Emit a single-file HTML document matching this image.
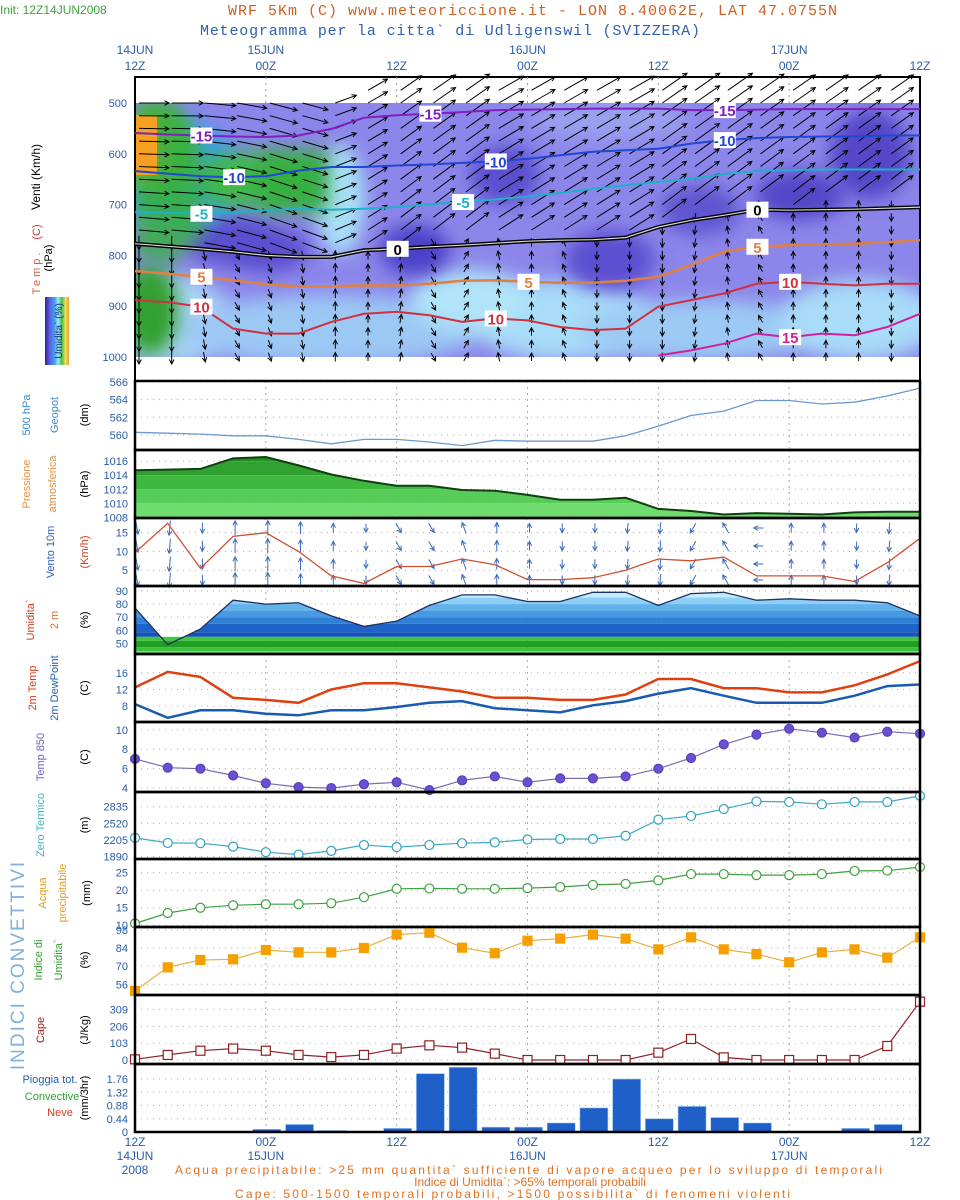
<!DOCTYPE html>
<html><head><meta charset="utf-8"><title>Meteogramma Udligenswil</title>
<style>
html,body{margin:0;padding:0;background:#fff;}
svg{display:block;font-family:"Liberation Sans Narrow","Liberation Sans",sans-serif;}
.tk{font-size:11px;fill:#2a5ca8;text-anchor:end;}
.ax{font-size:12px;fill:#2a5ca8;text-anchor:middle;}
.lb{font-size:11px;text-anchor:middle;}
</style></head>
<body>
<svg id="chart" width="960" height="1200" viewBox="0 0 960 1200" xmlns="http://www.w3.org/2000/svg">
<defs>
  <linearGradient id="cbar" x1="0" x2="1" y1="0" y2="0">
    <stop offset="0" stop-color="#3020a0"/><stop offset="0.2" stop-color="#6060e0"/><stop offset="0.4" stop-color="#40a0f0"/>
    <stop offset="0.55" stop-color="#a0e8f8"/><stop offset="0.7" stop-color="#40c040"/><stop offset="0.85" stop-color="#f0e060"/><stop offset="1" stop-color="#f0a030"/>
  </linearGradient>
  <filter id="blur" x="-50%" y="-50%" width="200%" height="200%"><feGaussianBlur stdDeviation="9"/></filter>
  <clipPath id="xsClip"><rect x="135" y="103" width="785" height="254"/></clipPath>
</defs>
<rect x="0" y="0" width="960" height="1200" fill="#fff"/>

<text x="0" y="14" font-size="12" fill="#40a040">Init: 12Z14JUN2008</text>
<text x="228" y="15" font-size="15" fill="#d06020" font-family="Liberation Mono, monospace" textLength="609">WRF 5Km (C) www.meteoriccione.it - LON 8.40062E, LAT 47.0755N</text>
<text x="200" y="35" font-size="15" fill="#3060b0" font-family="Liberation Mono, monospace" textLength="500">Meteogramma per la citta` di Udligenswil (SVIZZERA)</text>

<g id="topAxis"></g>
<g id="xsec" clip-path="url(#xsClip)"></g>
<g id="xsecOver"></g>
<g id="panels"></g>

<g font-size="11">
  <text transform="translate(40,177) rotate(-90)" class="lb" fill="#000" style="font-size:12px">Venti (Km/h)</text>
  <text transform="translate(40,232) rotate(-90)" class="lb" fill="#d04040">(C)</text>
  <text transform="translate(40,272) rotate(-90)" class="lb" fill="#d06040" letter-spacing="3">Temp.</text>
  <text transform="translate(52,258) rotate(-90)" class="lb" fill="#000">(hPa)</text>
  <rect x="45" y="297" width="24" height="68" fill="url(#cbar)"/>
  <text transform="translate(62,331) rotate(-90)" class="lb" fill="#203080" style="font-size:10px">Umidita` (%)</text>

  <text transform="translate(30,415) rotate(-90)" class="lb" fill="#3a8ad0">500 hPa</text>
  <text transform="translate(58,415) rotate(-90)" class="lb" fill="#3a8ad0">Geopot</text>
  <text transform="translate(88,415) rotate(-90)" class="lb" fill="#000">(dm)</text>

  <text transform="translate(30,484) rotate(-90)" class="lb" fill="#e09040">Pressione</text>
  <text transform="translate(56,484) rotate(-90)" class="lb" fill="#e09040">atmosferica</text>
  <text transform="translate(88,484) rotate(-90)" class="lb" fill="#000">(hPa)</text>

  <text transform="translate(54,552) rotate(-90)" class="lb" fill="#3060c0">Vento  10m</text>
  <text transform="translate(88,552) rotate(-90)" class="lb" fill="#d04020">(Km/h)</text>

  <text transform="translate(34,620) rotate(-90)" class="lb" fill="#d04020">Umidita`</text>
  <text transform="translate(58,620) rotate(-90)" class="lb" fill="#e07030">2 m</text>
  <text transform="translate(88,620) rotate(-90)" class="lb" fill="#000">(%)</text>

  <text transform="translate(36,688) rotate(-90)" class="lb" fill="#d04020">2m Temp</text>
  <text transform="translate(58,688) rotate(-90)" class="lb" fill="#2060b0">2m DewPoint</text>
  <text transform="translate(88,688) rotate(-90)" class="lb" fill="#000">(C)</text>

  <text transform="translate(44,757) rotate(-90)" class="lb" fill="#7060c0">Temp 850</text>
  <text transform="translate(88,757) rotate(-90)" class="lb" fill="#000">(C)</text>

  <text transform="translate(44,825) rotate(-90)" class="lb" fill="#40b0c0">Zero Termico</text>
  <text transform="translate(88,825) rotate(-90)" class="lb" fill="#000">(m)</text>

  <text transform="translate(46,893) rotate(-90)" class="lb" fill="#e0a020">Acqua</text>
  <text transform="translate(66,893) rotate(-90)" class="lb" fill="#e0a020">precipitabile</text>
  <text transform="translate(90,893) rotate(-90)" class="lb" fill="#000">(mm)</text>

  <text transform="translate(42,960) rotate(-90)" class="lb" fill="#30a030">Indice di</text>
  <text transform="translate(62,960) rotate(-90)" class="lb" fill="#30a030">Umidita`</text>
  <text transform="translate(88,960) rotate(-90)" class="lb" fill="#000">(%)</text>

  <text transform="translate(44,1030) rotate(-90)" class="lb" fill="#a02020">Cape</text>
  <text transform="translate(88,1030) rotate(-90)" class="lb" fill="#000">(J/Kg)</text>

  <text x="50" y="1083" class="lb" fill="#2060b0">Pioggia tot.</text>
  <text x="52" y="1100" class="lb" fill="#30a030">Convective</text>
  <text x="60" y="1116" class="lb" fill="#d04020">Neve</text>
  <text transform="translate(88,1098) rotate(-90)" class="lb" fill="#000">(mm/3hr)</text>

  <text transform="translate(24,965) rotate(-90)" class="lb" fill="#80b0e0" style="font-size:19px;font-family:'Liberation Sans',sans-serif" letter-spacing="2">INDICI  CONVETTIVI</text>
</g>

<g id="bottomAxis"></g>
<g font-size="12" fill="#e07020">
  <text x="175" y="1174" textLength="707">Acqua precipitabile: &gt;25 mm quantita` sufficiente di vapore acqueo per lo sviluppo di temporali</text>
  <text x="530" y="1186" text-anchor="middle">Indice di Umidita`: &gt;65% temporali probabili</text>
  <text x="235" y="1198" textLength="555">Cape: 500-1500 temporali probabili, &gt;1500 possibilita` di fenomeni violenti</text>
</g>
</svg>

<script>
const times = ["12Z","15Z","18Z","21Z","00Z","03Z","06Z","09Z","12Z","15Z","18Z","21Z","00Z","03Z","06Z","09Z","12Z","15Z","18Z","21Z","00Z","03Z","06Z","09Z","12Z"];
const geopot = [560.3,560.2,560.1,559.9,559.9,559.5,559.0,559.5,559.5,559.2,558.8,559.4,559.3,559.3,559.3,559.9,561.0,562.2,562.7,563.9,563.9,563.5,563.7,564.4,565.3];
const pressure = [1014.7,1014.8,1014.9,1016.4,1016.6,1015.4,1014.1,1013.2,1012.5,1012.5,1011.9,1011.8,1011.2,1010.5,1010.5,1010.8,1009.2,1008.9,1008.4,1008.6,1008.5,1008.4,1008.7,1008.8,1008.8];
const wind10 = [9.7,17.5,5.5,14,15,10,3.5,1.5,6,6,8,6.5,2.5,2.5,3,5,8,7.5,8.5,3.5,3.5,3.5,2,7,13.5];
const wind10Dir = [80,95,90,-90,-90,-90,-90,90,60,60,-110,-90,-90,90,90,95,95,120,-120,180,-90,-90,90,95,100];
const humidity = [77,49,61,83,80,81,71,63,67,79,87,87,82,82,89,89,79,88,89,83,84,83,83,81,71];
const temp2m = [12.5,16.2,15,10,9.5,8.8,12,13.5,13.5,12.5,11.5,10,10,9.5,9.5,10.8,14.5,14.5,12.3,12.3,11.3,11.3,13,15.6,18.8];
const dew2m = [8.5,5.2,7,7,6.2,5.8,7,7,7.8,8.8,9.2,7.5,7,6.5,8.2,9.2,11,12.3,10.5,8.8,8.8,8.8,10.5,12.8,13.2];
const temp850 = [7.0,6.1,6.0,5.3,4.5,4.1,4.0,4.4,4.6,3.8,4.8,5.2,4.6,5.0,5.0,5.2,6.0,7.1,8.5,9.5,10.1,9.7,9.2,9.8,9.6];
const zeroTerm = [2245,2150,2145,2080,1975,1930,2000,2110,2070,2110,2145,2160,2215,2225,2225,2285,2590,2660,2790,2935,2925,2880,2925,2925,3040];
const acqua = [10.5,13.5,15,15.7,16,16,16.3,18,20.4,20.5,20.4,20.4,20.6,20.9,21.5,21.8,22.8,24.6,24.6,24.3,24.3,24.6,25.5,25.6,26.6];
const indice = [50.8,69.1,74.8,75.3,82.5,80.7,80.7,84.1,94.4,95.9,84.3,80,89.7,91.3,94.4,91.3,83,92.3,83,79.4,73,80.7,83,76.6,92.3];
const cape = [4,31,57,70,57,31,18,31,70,90,76,39,0,0,0,0,45,129,16,0,0,0,0,86,358];
const precip = [0,0,0,0,0.09,0.25,0.05,0,0.12,1.94,2.15,0.16,0.16,0.3,0.8,1.76,0.44,0.85,0.48,0.3,0,0,0.12,0.25,0];

const isoM15 = [559,562,564,566,567,564,551,529,524,521,518,514,513,512,511,511,511,514,514,513,512,512,512,512,512];
const isoM10 = [634,639,644,646,644,633,626,626,623,621,618,615,610,603,596,593,590,580,573,569,567,566,566,564,564];
const isoM5 = [715,716,718,715,711,708,710,708,705,699,695,690,684,677,669,662,655,649,640,634,632,631,631,631,631];
const iso0 = [777,782,787,793,800,803,803,790,787,783,780,776,772,770,769,765,744,731,721,710,711,710,709,707,705];
const iso5 = [831,836,842,849,857,861,861,859,859,856,850,849,852,854,854,850,842,819,793,783,780,778,777,774,770];
const iso10 = [888,892,901,944,954,954,931,915,911,918,931,924,928,941,947,944,901,888,875,856,852,856,859,856,856];
const iso15 = [null,null,null,null,null,null,null,null,null,null,null,null,null,null,null,null,997,987,974,954,961,954,957,941,915];
const windUpDir = [0,0,5,10,15,15,-20,-30,-35,-35,-35,-30,-30,-30,-30,-30,-35,-35,-35,-35,-35,-35,-35,-35,-35];
const windUpSpd = [40,42,42,40,38,35,30,30,34,36,38,38,36,36,36,38,40,40,40,38,36,36,36,36,36];
const windLoDir = [90,90,80,60,70,80,-90,-90,-80,60,-60,-100,-90,-110,90,90,90,100,-100,-120,-90,-90,-90,90,90];
const windLoSpd = [14,14,10,9,9,9,9,8,9,9,9,9,8,8,8,8,9,9,8,8,8,8,8,8,8];
const pLevels = [475,500,525,550,575,600,625,650,675,700,725,750,775,800,825,850,875,900,925,950,975,1000];

const NS = "http://www.w3.org/2000/svg";
const X = i => 135 + i * 785 / 24;
function lin(top, bot, vTop, vBot) { return v => top + (vTop - v) / (vTop - vBot) * (bot - top); }
function el(tag, attrs, parent) {
  const e = document.createElementNS(NS, tag);
  for (const k in attrs) e.setAttribute(k, attrs[k]);
  parent.appendChild(e);
  return e;
}
const P = document.getElementById('panels');
const XS = document.getElementById('xsec');
const XO = document.getElementById('xsecOver');
const pY = p => 103 + (p - 500) * 254 / 500;

let e;
e = el('rect', {x:135,y:103,width:785,height:254,fill:'#8c86ea'}, XS);


const blobs = [
 [170,320,60,45,'#a8d4f6'],[330,330,150,35,'#9cc8f4'],[560,320,90,40,'#a8dcf8'],[700,330,120,30,'#9ccaf4'],[860,320,80,40,'#a8dcf8'],
 [470,300,60,30,'#b0e4f8'],[230,240,45,25,'#5c50d0'],[270,250,40,22,'#5c50d0'],[415,250,35,25,'#4c40c8'],[505,175,35,30,'#5c50d0'],
 [610,260,45,30,'#5c50d0'],[700,210,40,25,'#6054d0'],[870,155,40,45,'#5446c8'],[800,195,45,25,'#5446c8'],[610,120,80,20,'#9aa0ee'],
 [180,175,60,55,'#3aa0e8'],[240,180,45,28,'#40b848'],[160,150,35,45,'#40b848'],[340,200,25,55,'#a8e0f8'],
 [150,310,28,45,'#30a030'],[150,150,18,35,'#f0a030']];
blobs.forEach(b => {
  const c = el('ellipse', {cx:b[0],cy:b[1],rx:b[2],ry:b[3],fill:b[4],filter:'url(#blur)'}, XS);
  
  
});
e = el('polygon', {points:'135,103 170,103 200,150 205,230 170,265 135,255', fill:'#38b040', opacity:0.85, filter:'url(#blur)'}, XS);


e = el('rect', {x:258,y:150,width:70,height:62,fill:'#36b040', filter:'url(#blur)'}, XS);


e = el('rect', {x:135,y:115,width:22,height:60,fill:'#f5a020'}, XS);



e = el('rect', {x:135,y:77,width:785,height:304,fill:'none',stroke:'#000','stroke-width':2}, XO);


[500,600,700,800,900,1000].forEach(p => {
  const t = el('text', {x:127,y:pY(p)+4,class:'tk'}, XO);
  t.textContent = p;
  
  
});
[4,8,12,16,20].forEach(i => {
  const g = el('line', {x1:X(i),x2:X(i),y1:77,y2:103,stroke:'#999','stroke-dasharray':'2,4'}, XO);
  
  
});

function arrow(x, y, ang, len, color, parent, name) {
  const r = ang * Math.PI / 180;
  const x2 = x + Math.cos(r) * len, y2 = y + Math.sin(r) * len;
  const a1 = r + Math.PI * 0.85, a2 = r - Math.PI * 0.85;
  const d = `M${x.toFixed(1)},${y.toFixed(1)}L${x2.toFixed(1)},${y2.toFixed(1)}M${(x2+Math.cos(a1)*5).toFixed(1)},${(y2+Math.sin(a1)*5).toFixed(1)}L${x2.toFixed(1)},${y2.toFixed(1)}L${(x2+Math.cos(a2)*5).toFixed(1)},${(y2+Math.sin(a2)*5).toFixed(1)}`;
  const p = el('path', {d:d,stroke:color,fill:'none','stroke-width':1}, parent);
  
  
}
for (let i = 0; i < 24; i++) {
  pLevels.forEach(p => {
    if (p < 500 && i < 7) return;
    const up = p < iso0[i] - 10;
    const ang = up ? windUpDir[i] + (p - 500) * 0.02 * (i < 6 ? 1 : -0.5) : windLoDir[i];
    const len = up ? windUpSpd[i] * 0.75 : windLoSpd[i];
    const x0 = up ? X(i) + 4 : X(i) + 4 - Math.cos(ang * Math.PI / 180) * len / 2;
    const y0 = up ? pY(p) : pY(p) - Math.sin(ang * Math.PI / 180) * len / 2;
    arrow(x0, y0, ang, len, '#000', XO, 'wind-arrow');
  });
}

function isoLine(arr, color, w, name, label, li) {
  const pts = [];
  arr.forEach((p, i) => { if (p !== null) pts.push(X(i).toFixed(1) + ',' + pY(p).toFixed(1)); });
  if (name === 'isotherm-0') {
    const b = el('polyline', {points:pts.join(' '),fill:'none',stroke:'#000','stroke-width':4}, XO);
    
    
    color = '#d8d8d8'; w = 1.2;
  }
  const l = el('polyline', {points:pts.join(' '),fill:'none',stroke:color,'stroke-width':w}, XO);
  
  
  li.forEach(i => {
    const bx = el('rect', {x:X(i)-10,y:pY(arr[i])-8,width:22,height:16,fill:'#fff'}, XO);
    
    
    const t = el('text', {x:X(i)+1,y:pY(arr[i])+6,'text-anchor':'middle','font-size':15,fill:color === '#d8d8d8' ? '#000' : color,'font-weight':'bold'}, XO);
    t.textContent = label;
    
    
  });
}
isoLine(isoM15, '#8020c0', 2, 'isotherm-m15', '-15', [2,9,18]);
isoLine(isoM10, '#2048d0', 2, 'isotherm-m10', '-10', [3,11,18]);
isoLine(isoM5, '#20b0c8', 2, 'isotherm-m5', '-5', [2,10]);
isoLine(iso0, '#000', 2, 'isotherm-0', '0', [8,19]);
isoLine(iso5, '#e08040', 2.5, 'isotherm-5', '5', [2,12,19]);
isoLine(iso10, '#d03040', 2, 'isotherm-10', '10', [2,11,20]);
isoLine(iso15, '#d020a0', 2, 'isotherm-15', '15', [20]);

const topLabels = [[0,'14JUN','12Z'],[4,'15JUN','00Z'],[8,'','12Z'],[12,'16JUN','00Z'],[16,'','12Z'],[20,'17JUN','00Z'],[24,'','12Z']];
const TA = document.getElementById('topAxis'), BA = document.getElementById('bottomAxis');
topLabels.forEach(t => {
  if (t[1]) { const a = el('text', {x:X(t[0]),y:54,class:'ax'}, TA); a.textContent = t[1];
    
     }
  const b = el('text', {x:X(t[0]),y:70,class:'ax'}, TA); b.textContent = t[2];
  
  
  const c = el('text', {x:X(t[0]),y:1146,class:'ax'}, BA); c.textContent = t[2];
  
  
  if (t[1]) { const d = el('text', {x:X(t[0]),y:1160,class:'ax'}, BA); d.textContent = t[1];
    
     }
});
e = el('text', {x:X(0),y:1174,class:'ax'}, BA); e.textContent = '2008';



function panel(name, top, bot, vTop, vBot, ticks) {
  const y = lin(top, bot, vTop, vBot);
  const g = el('g', {}, P);
  
  
  ticks.forEach(v => {
    const gl = el('line', {x1:135,x2:920,y1:y(v),y2:y(v),stroke:'#aaa','stroke-dasharray':'1,5'}, g);
    
    
    const t = el('text', {x:128,y:y(v)+4,class:'tk'}, g);
    t.textContent = v;
    
    
  });
  [4,8,12,16,20].forEach(i => {
    const vl = el('line', {x1:X(i),x2:X(i),y1:top,y2:bot,stroke:'#aaa','stroke-dasharray':'2,4'}, g);
    
    
  });
  return {g, y, top, bot};
}
function frame(pn, name) {
  const f = el('rect', {x:135,y:pn.top,width:785,height:pn.bot-pn.top,fill:'none',stroke:'#000','stroke-width':2.5}, pn.g);
  
  
}
function pts(arr, y) { return arr.map((v, i) => X(i).toFixed(1) + ',' + y(v).toFixed(1)).join(' '); }
function line(pn, arr, color, w, name) {
  const l = el('polyline', {points:pts(arr, pn.y),fill:'none',stroke:color,'stroke-width':w}, pn.g);
  
  
}
function bandsArea(pn, arr, bands, name) {
  const id = name + 'Clip';
  const cp = el('clipPath', {id:id}, pn.g);
  el('polygon', {points:'135,' + pn.bot + ' ' + pts(arr, pn.y) + ' 920,' + pn.bot}, cp);
  bands.forEach(b => {
    const r = el('rect', {x:135,y:pn.y(b[0]),width:785,height:pn.y(b[1])-pn.y(b[0]),fill:b[2],'clip-path':'url(#' + id + ')'}, pn.g);
    
    
  });
}

let pn = panel('geopot', 381, 450, 566.1, 558.3, [560,562,564,566]);
line(pn, geopot, '#6a9ad0', 1.3, 'geopot-line'); frame(pn, 'geopot');

pn = panel('pressure', 450, 518, 1017.6, 1007.9, [1008,1010,1012,1014,1016]);
bandsArea(pn, pressure, [[1018,1016,'#209020'],[1016,1014,'#30a030'],[1014,1012,'#40b840'],[1012,1010,'#58cc58'],[1010,1007.9,'#70dc70']], 'pressure');
line(pn, pressure, '#104010', 2, 'pressure-line'); frame(pn, 'pressure');

pn = panel('wind10', 518, 586, 18.9, 0.8, [5,10,15]);
for (let i = 0; i < 24; i++) {
  [528,546,564,580].forEach(yy => {
    const a = wind10Dir[i];
    const len = 8 + Math.min(wind10[i], 15) * 0.45;
    const x0 = X(i) + 2 - Math.cos(a * Math.PI / 180) * len / 2, y0 = yy - Math.sin(a * Math.PI / 180) * len / 2;
    arrow(x0, y0, a, len, '#3a6ac0', pn.g, 'wind10-arrow');
  });
}
line(pn, wind10, '#d05030', 1.3, 'wind10-speed-line'); frame(pn, 'wind10');

pn = panel('humidity', 586, 654, 93.8, 41.9, [50,60,70,80,90]);
bandsArea(pn, humidity, [[95,85,'#c4ecfa'],[85,80,'#8ed0f5'],[80,75,'#62b2ec'],[75,70,'#4898e2'],[70,65,'#3080d6'],[65,58,'#1e64c8'],[58,55,'#1a50b8']], 'humidity');
[[55,52,'#3cc83c'],[52,47,'#20a020'],[47,44,'#40c040'],[44,41.9,'#70e070']].forEach(b => {
  const r = el('rect', {x:135,y:pn.y(b[0]),width:785,height:pn.y(b[1])-pn.y(b[0]),fill:b[2]}, pn.g);
  
  
});
line(pn, humidity, '#203060', 1.3, 'humidity-line'); frame(pn, 'humidity');

pn = panel('t2m', 654, 722, 20.5, 4.2, [8,12,16]);
line(pn, temp2m, '#e04010', 2.5, 'temp2m-line');
line(pn, dew2m, '#1a5ab0', 2.5, 'dewpoint-line'); frame(pn, 't2m');

function markers(pn, arr, kind, fill, stroke, name) {
  arr.forEach((v, i) => {
    let m;
    if (kind === 'c') m = el('circle', {cx:X(i),cy:pn.y(v),r:4.5,fill:fill,stroke:stroke,'stroke-width':1.2}, pn.g);
    else m = el('rect', {x:X(i)-4.5,y:pn.y(v)-4.5,width:9,height:9,fill:fill,stroke:stroke,'stroke-width':1.2}, pn.g);
    
    
  });
}
pn = panel('t850', 722, 792, 10.8, 3.6, [4,6,8,10]);
line(pn, temp850, '#7a6ab0', 1.2, 't850-line'); markers(pn, temp850, 'c', '#6a50d0', '#5a40c0', 't850-point'); frame(pn, 't850');

pn = panel('zero', 792, 859, 3113, 1846, [1890,2205,2520,2835]);
line(pn, zeroTerm, '#40a8c8', 1.2, 'zero-line'); markers(pn, zeroTerm, 'c', '#fff', '#30a0c0', 'zero-point'); frame(pn, 'zero');

pn = panel('acqua', 859, 927, 28.9, 9.5, [10,15,20,25]);
line(pn, acqua, '#40a040', 1.2, 'acqua-line'); markers(pn, acqua, 'c', '#fff', '#40a040', 'acqua-point'); frame(pn, 'acqua');

pn = panel('indice', 927, 995, 100.3, 47.7, [56,70,84,98]);
line(pn, indice, '#e8b040', 1.2, 'indice-line'); markers(pn, indice, 's', '#f5a000', '#f5a000', 'indice-point'); frame(pn, 'indice');

pn = panel('cape', 995, 1064, 399, -24.6, [0,103,206,309]);
line(pn, cape, '#902030', 1.2, 'cape-line'); markers(pn, cape, 's', '#fff', '#902020', 'cape-point'); frame(pn, 'cape');

pn = panel('precip', 1064, 1132, 2.26, 0, [0,0.44,0.88,1.32,1.76]);
precip.forEach((v, i) => {
  if (v <= 0) return;
  const b = el('rect', {x:X(i)-13,y:pn.y(v),width:28,height:pn.y(0)-pn.y(v),fill:'#1f5fc8',stroke:'#9cc8f0','stroke-width':0.6}, pn.g);
  
  
});
frame(pn, 'precip');
</script>
</body></html>
